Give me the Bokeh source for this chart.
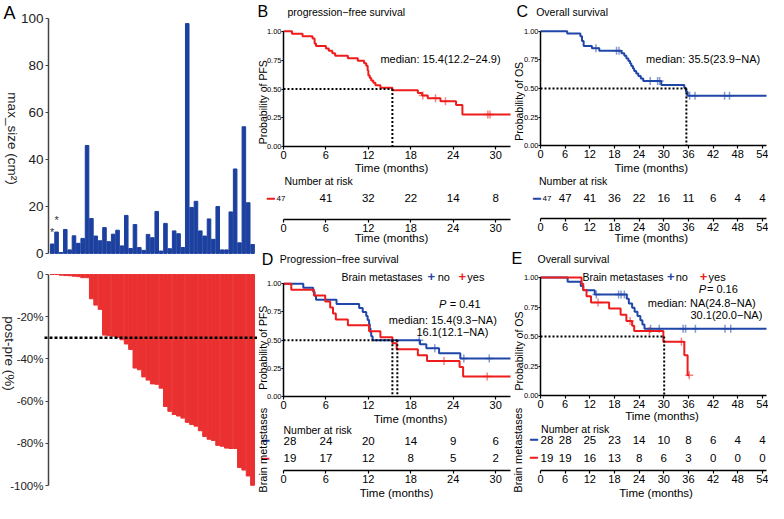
import math
from bokeh.plotting import figure
from bokeh.layouts import row, column
from bokeh.models import (Range1d, Label, LabelSet, ColumnDataSource, LinearAxis,
                          FixedTicker, PrintfTickFormatter)
from bokeh.embed import file_html
from bokeh.resources import INLINE
from bokeh.core.properties import value

# ---------------- Panel A data ----------------
patients = list(range(1, 48))
max_size = [4.0, 9.1, 0.4, 10.2, 1.5, 7.5, 4.3, 6.4, 46, 14.9, 7.4, 5.4, 11.0, 5.0, 8.2,
            9.9, 3.2, 16.2, 2.1, 12.3, 2.5, 1.3, 8.1, 6.7, 17.9, 1.0, 12.8, 2.0, 9.6, 8.4,
            2.5, 98, 19.6, 22.2, 9.6, 7.4, 14.7, 6.0, 20.0, 1.5, 1.5, 17.7, 36, 4.5, 54,
            21.6, 3.8]
change_pct = [0, 0, -0.3, -0.5, -0.6, -0.8, -1.0, -1.5, -1.5, -11.5, -14.5, -16.5, -28.7,
              -29.0, -29.2, -29.8, -30.9, -32.9, -35.5, -44.3, -45.1, -48.5, -50.0, -51.8,
              -52.0, -53.8, -62.5, -64.8, -66.3, -67.0, -68.0, -70.0, -71.0, -71.8, -74.0,
              -76.7, -78.0, -78.6, -80.9, -81.3, -82.2, -82.4, -82.4, -91.4, -92.6, -95.4,
              -99.8]
starred_patients = [1, 2]
size_ticks = [0, 20, 40, 60, 80, 100]
change_ticks = [0, -20, -40, -60, -80, -100]
change_tick_labels = ["0", "-20%", "-40%", "-60%", "-80%", "-100%"]
response_cutoff = -30

# ---------------- KM data ----------------
surv_ticks = [0, 0.25, 0.5, 0.75, 1.0]
median_level = 0.5
pfs_ticks = [0, 6, 12, 18, 24, 30]
os_ticks = [0, 6, 12, 18, 24, 30, 36, 42, 48, 54]

# B: progression-free survival (all)
pfs_time = [0, 1.2, 2.7, 4.1, 4.4, 4.6, 6.0, 6.4, 6.9, 7.3, 9.1, 10.5, 11.4, 11.7, 11.9,
            12.0, 12.2, 12.4, 12.7, 13.0, 13.7, 15.4, 19.0, 19.6, 20.4, 22.2, 24.4, 25.3, 32.1]
pfs_surv = [1.0, 0.979, 0.957, 0.936, 0.894, 0.872, 0.851, 0.830, 0.809, 0.787, 0.766,
            0.745, 0.723, 0.702, 0.660, 0.617, 0.596, 0.574, 0.553, 0.532, 0.511, 0.489,
            0.466, 0.443, 0.419, 0.393, 0.362, 0.28, 0.28]
pfs_censor = [19.7, 21.5, 22.9, 28.9, 29.2]
pfs_median = [15.4]
pfs_risk = [47, 41, 32, 22, 14, 8]

# C: overall survival (all)
os_time = [0, 6.5, 9.7, 10.1, 10.5, 12.5, 14.3, 19.7, 20.4, 20.9, 21.4, 21.8, 22.1, 22.5,
           22.8, 23.3, 23.8, 24.4, 25.0, 29.4, 35.0, 35.4, 35.8, 55]
os_surv = [1.0, 0.979, 0.957, 0.915, 0.872, 0.851, 0.829, 0.807, 0.785, 0.763, 0.741, 0.719,
           0.697, 0.675, 0.653, 0.631, 0.609, 0.587, 0.565, 0.531, 0.504, 0.472, 0.437, 0.437]
os_censor = [13.5, 18.5, 19.1, 26.7, 28.5, 29.0, 36.3, 37.6, 44.8, 46.0]
os_median = [35.5]
os_risk = [47, 47, 41, 36, 22, 16, 11, 6, 4, 4]

# D: PFS by brain metastases
pfs_no_time = [0, 2.8, 4.2, 4.4, 4.6, 7.5, 10.7, 11.2, 11.7, 11.9, 12.1, 12.2, 12.3, 12.4,
               12.6, 19.3, 20.2, 22.0, 25.0, 32.1]
pfs_no_surv = [1.0, 0.964, 0.929, 0.893, 0.857, 0.821, 0.786, 0.750, 0.714, 0.679, 0.643,
               0.607, 0.571, 0.536, 0.500, 0.464, 0.429, 0.386, 0.338, 0.338]
pfs_no_censor = [19.2, 21.4, 25.5, 29.1]
pfs_yes_time = [0, 1.1, 4.3, 5.9, 6.6, 7.0, 7.4, 9.1, 12.1, 13.7, 15.4, 16.0, 19.0, 20.3,
                24.9, 25.4, 32.1]
pfs_yes_surv = [1.0, 0.947, 0.895, 0.842, 0.789, 0.737, 0.684, 0.632, 0.579, 0.526, 0.474,
                0.421, 0.368, 0.316, 0.263, 0.18, 0.18]
pfs_yes_censor = [22.7, 28.8]
pfs_bm_medians = [15.4, 16.1]
pfs_no_risk = [28, 24, 20, 14, 9, 6]
pfs_yes_risk = [19, 17, 12, 8, 5, 2]

# E: OS by brain metastases
os_no_time = [0, 6.6, 9.8, 10.4, 13.2, 21.0, 21.5, 22.3, 22.9, 23.6, 24.3, 24.8, 25.3, 55]
os_no_surv = [1.0, 0.964, 0.929, 0.893, 0.857, 0.82, 0.78, 0.745, 0.71, 0.674, 0.638, 0.603,
              0.567, 0.567]
os_no_censor = [13.6, 19.0, 19.6, 20.4, 26.8, 28.9, 34.7, 35.3, 37.7, 44.9, 46.3]
os_yes_time = [0, 10.0, 10.4, 11.2, 12.3, 16.7, 19.5, 20.9, 22.3, 22.8, 29.9, 35.0, 35.8, 36.2]
os_yes_surv = [1.0, 0.947, 0.895, 0.842, 0.789, 0.737, 0.684, 0.632, 0.592, 0.548, 0.456,
               0.342, 0.171, 0.171]
os_yes_censor = [14.0, 21.8, 26.5, 34.3, 36.2]
os_bm_medians = [30.1]
os_no_risk = [28, 28, 25, 23, 14, 10, 8, 6, 4, 4]
os_yes_risk = [19, 19, 16, 13, 8, 6, 3, 0, 0, 0]

# ---------------- styling ----------------
F = "Liberation Sans"
RED = "#ee1c1c"
BLUE = "#1f46a8"
BAR_BLUE = "#1c409f"
BAR_RED = "#ea3030"


class Geo:
    """Maps pixel anchors (x from left, y from top) of a full-canvas frame to data ranges."""

    def __init__(self, W, H, xa, xb, ya, yb):
        (pxa, va), (pxb, vb) = xa, xb
        self.sx = (pxb - pxa) / (vb - va)
        self.x0 = va - pxa / self.sx
        self.x1 = self.x0 + W / self.sx
        (pya, ua), (pyb, ub) = ya, yb
        self.sy = (pya - pyb) / (ub - ua)
        self.ybot = ua - (H - pya) / self.sy
        self.ytop = self.ybot + H / self.sy
        self.W, self.H = W, H

    def yd(self, py):
        return self.ybot + (self.H - py) / self.sy

    def xd(self, px):
        return self.x0 + px / self.sx


def make_fig(g):
    p = figure(width=g.W, height=g.H, x_range=Range1d(g.x0, g.x1),
               y_range=Range1d(g.ybot, g.ytop), x_axis_type=None, y_axis_type=None,
               output_backend="svg", toolbar_location=None, min_border=0)
    if p.title is not None:
        p.title.visible = False
    p.outline_line_color = None
    p.grid.visible = False
    return p


def lab(p, g, text, px, py, size, align="left", angle=0.0, color="black", style="normal",
        font=F, x=None, y=None):
    xu, yu = "screen", "screen"
    xv, yv = px, (g.H - py if py is not None else None)
    if x is not None:
        xu, xv = "data", x
    if y is not None:
        yu, yv = "data", y
    p.add_layout(Label(x=xv, y=yv, x_units=xu, y_units=yu, text=text, text_font=font,
                       text_font_size=size, text_align=align, text_baseline="middle",
                       angle=angle, text_color=color, text_font_style=style))


def axis(p, place, loc, bounds, ticks, size, tick_out=3, standoff=0, color="black",
         label_color="black", fmt=None, overrides=None):
    ax = LinearAxis(fixed_location=loc, bounds=bounds, ticker=FixedTicker(ticks=ticks))
    ax.axis_line_color = color
    ax.axis_line_width = 1.5
    ax.major_tick_line_color = color
    ax.major_tick_line_width = 1.2
    ax.major_tick_out = tick_out
    ax.major_tick_in = 0
    ax.minor_tick_line_color = None
    ax.major_label_text_font = F
    ax.major_label_text_font_size = size
    ax.major_label_text_color = label_color
    ax.major_label_standoff = standoff
    if fmt is not None:
        ax.formatter = fmt
    if overrides is not None:
        ax.major_label_overrides = overrides
    p.add_layout(ax, place)
    return ax


def surv_at(times, survs, t):
    s = survs[0]
    for ti, si in zip(times, survs):
        if ti <= t:
            s = si
        else:
            break
    return s


def curve(p, t, s, cens, color):
    p.step(t, s, mode="after", line_color=color, line_width=2)
    cy = [surv_at(t, s, c) for c in cens]
    p.scatter(cens, cy, marker="cross", size=8, line_color=color, line_width=1.5, alpha=0.55)


def medians(p, meds):
    m = max(meds)
    p.line([0, m], [median_level, median_level], line_color="black", line_dash="2 2", line_width=2)
    for mm in meds:
        p.line([mm, mm], [median_level, 0], line_color="black", line_dash="2 2", line_width=2)


def km_axes(p, g, xmax, ticks, risk_line_py):
    axis(p, "below", 0, (0, xmax), ticks, "11px", 3, 1)
    axis(p, "left", 0, (0, 1), surv_ticks, "7.5px", 2, 0, fmt=PrintfTickFormatter(format="%.2f"))
    axis(p, "below", g.yd(risk_line_py), (0, xmax), ticks, "11px", 3, 1)


def risk_row(p, g, ticks, counts, py):
    src = ColumnDataSource(dict(x=ticks[1:], y=[g.H - py] * (len(ticks) - 1),
                                t=[str(c) for c in counts[1:]]))
    p.add_layout(LabelSet(x="x", y="y", x_units="data", y_units="screen", text="t",
                          source=src, text_align="center", text_baseline="middle",
                          text_font=value(F), text_font_size=value("11.5px"),
                          text_color="black"))


# ================= Panel A =================
gA1 = Geo(257, 262, (48, 0.15), (256, 47.9), (252.9, 0), (18.4, 100))
pA1 = make_fig(gA1)
pA1.vbar(x=patients, top=max_size, width=0.82, color=BAR_BLUE)
axis(pA1, "left", 0.15, (0, 100), size_ticks, "13.5px", 3, 2, color="#444444", label_color="#222222")
star_src = ColumnDataSource(dict(x=[patients[i - 1] for i in starred_patients],
                                 y=[max_size[i - 1] + 5 for i in starred_patients],
                                 t=["*"] * len(starred_patients)))
pA1.add_layout(LabelSet(x="x", y="y", text="t", source=star_src, text_align="center",
                        text_baseline="middle", text_font=value(F),
                        text_font_size=value("11px"), text_color="#333333"))
lab(pA1, gA1, "A", 3, 12, "18px")
lab(pA1, gA1, "max_size (cm\u00b2)", 11.5, 138, "13.5px", align="center",
    angle=-math.pi / 2, color="#222222")

gA2 = Geo(257, 241, (48, 0.15), (256, 47.9), (12, 0), (223.2, -100))
pA2 = make_fig(gA2)
pA2.vbar(x=patients, top=change_pct, bottom=0, width=0.9, color=BAR_RED)
axis(pA2, "left", 0.15, (-100, 0), change_ticks, "11.5px", 3, 2, color="#444444",
     label_color="#222222", overrides=dict(zip(change_ticks, change_tick_labels)))
pA2.line([gA2.xd(44), gA2.x1], [response_cutoff, response_cutoff], line_color="black",
         line_dash="3 2", line_width=2.5)
lab(pA2, gA2, "post-pre (%)", 8.5, 91, "13.5px", align="center", angle=-math.pi / 2,
    color="#222222")

# ================= Panel B (+ risk table) =================
gB = Geo(254, 250, (26, 0), (253, 32.1), (146.3, 0), (30.7, 1))
pB = make_fig(gB)
curve(pB, pfs_time, pfs_surv, pfs_censor, RED)
medians(pB, pfs_median)
km_axes(pB, gB, 32.1, pfs_ticks, 219)
lab(pB, gB, "B", 0, 10.5, "16px")
lab(pB, gB, "progression\u2212free survival", 30, 11.6, "10.5px")
lab(pB, gB, "Probability of PFS", 5, 101.7, "10.5px", align="center", angle=math.pi / 2)
lab(pB, gB, "Time (months)", 134, 167.6, "11.5px", align="center")
lab(pB, gB, "median: 15.4(12.2\u221224.9)", None, None, "11px", x=13.7, y=0.76)
lab(pB, gB, "Number at risk", 27, 180, "10.5px")
risk_row(pB, gB, pfs_ticks, pfs_risk, 197.7)
lab(pB, gB, str(pfs_risk[0]), 28, 197.7, "8px", align="right")
lab(pB, gB, "\u2501", 13.5, 197.7, "13px", align="center", color=RED, font="DejaVu Sans")
lab(pB, gB, "Time (months)", 134, 237.6, "11.5px", align="center")

# ================= Panel C (+ risk table) =================
gC = Geo(257, 250, (29, 0), (255, 55), (145.4, 0), (30.7, 1))
pC = make_fig(gC)
curve(pC, os_time, os_surv, os_censor, BLUE)
medians(pC, os_median)
km_axes(pC, gC, 55, os_ticks, 218)
lab(pC, gC, "C", 5, 10.7, "16px")
lab(pC, gC, "Overall survival", 24.7, 11.3, "10.5px")
lab(pC, gC, "Probability of OS", 7, 100.8, "10.5px", align="center", angle=math.pi / 2)
lab(pC, gC, "Time (months)", 139.8, 167.6, "11.5px", align="center")
lab(pC, gC, "median: 35.5(23.9\u2212NA)", None, None, "11px", x=25.7, y=0.76)
lab(pC, gC, "Number at risk", 27.5, 180, "10.5px")
risk_row(pC, gC, os_ticks, os_risk, 197.7)
lab(pC, gC, str(os_risk[0]), 31, 197.7, "8px")
lab(pC, gC, "\u2501", 25.5, 197.7, "13px", align="center", color=BLUE, font="DejaVu Sans")
lab(pC, gC, "Time (months)", 139.8, 237.6, "11.5px", align="center")

# ================= Panel D (+ risk table) =================
gD = Geo(254, 253, (26, 0), (253, 32.1), (146.3, 0), (33.2, 1))
pD = make_fig(gD)
curve(pD, pfs_no_time, pfs_no_surv, pfs_no_censor, BLUE)
curve(pD, pfs_yes_time, pfs_yes_surv, pfs_yes_censor, RED)
medians(pD, pfs_bm_medians)
km_axes(pD, gD, 32.1, pfs_ticks, 220)
lab(pD, gD, "D", 4.3, 8.5, "16px")
lab(pD, gD, "Progression\u2212free survival", 22.3, 8.7, "10.5px")
lab(pD, gD, "Probability of PFS", 5, 97.2, "10.5px", align="center", angle=math.pi / 2)
lab(pD, gD, "Time (months)", 153, 168.3, "11.5px", align="center")
lab(pD, gD, "Brain metastases", None, None, "10.5px", x=8.2, y=1.063)
lab(pD, gD, "+", None, None, "13px", align="center", color=BLUE, style="bold", x=20.9, y=1.063)
lab(pD, gD, "no", None, None, "11px", x=21.8, y=1.063)
lab(pD, gD, "+", None, None, "13px", align="center", color=RED, style="bold", x=25.3, y=1.063)
lab(pD, gD, "yes", None, None, "11px", x=26.0, y=1.063)
lab(pD, gD, "P", None, None, "11px", style="italic", x=22.0, y=0.82)
lab(pD, gD, "= 0.41", None, None, "11px", x=23.5, y=0.82)
lab(pD, gD, "median: 15.4(9.3\u2212NA)", None, None, "11px", x=14.9, y=0.678)
lab(pD, gD, "16.1(12.1\u2212NA)", None, None, "11px", x=18.8, y=0.572)
lab(pD, gD, "Number at risk", 26, 179, "10.5px")
risk_row(pD, gD, pfs_ticks, pfs_no_risk, 190.2)
risk_row(pD, gD, pfs_ticks, pfs_yes_risk, 207.6)
lab(pD, gD, str(pfs_no_risk[0]), 26, 190.2, "11.5px")
lab(pD, gD, str(pfs_yes_risk[0]), 26, 207.6, "11.5px")
lab(pD, gD, "\u2501", 8, 190.2, "13px", align="center", color=BLUE, font="DejaVu Sans")
lab(pD, gD, "\u2501", 8, 207.6, "13px", align="center", color=RED, font="DejaVu Sans")
lab(pD, gD, "Time (months)", 139, 242.5, "11.5px", align="center")
lab(pD, gD, "Brain metastases", 5, 199.7, "11px", align="center", angle=math.pi / 2)

# ================= Panel E (+ risk table) =================
gE = Geo(257, 253, (29, 0), (255, 55), (145, 0), (27.1, 1))
pE = make_fig(gE)
curve(pE, os_no_time, os_no_surv, os_no_censor, BLUE)
curve(pE, os_yes_time, os_yes_surv, os_yes_censor, RED)
medians(pE, os_bm_medians)
km_axes(pE, gE, 55, os_ticks, 220)
lab(pE, gE, "E", 0, 7.5, "16px")
lab(pE, gE, "Overall survival", 26, 8.4, "10.5px")
lab(pE, gE, "Probability of OS", 7, 100.5, "10.5px", align="center", angle=math.pi / 2)
lab(pE, gE, "Time (months)", 150.5, 165, "11.5px", align="center")
lab(pE, gE, "Brain metastases", None, None, "10.5px", x=10.2, y=1.008)
lab(pE, gE, "+", None, None, "13px", align="center", color=BLUE, style="bold", x=31.7, y=1.008)
lab(pE, gE, "no", None, None, "11px", x=32.9, y=1.008)
lab(pE, gE, "+", None, None, "13px", align="center", color=RED, style="bold", x=39.7, y=1.008)
lab(pE, gE, "yes", None, None, "11px", x=40.9, y=1.008)
lab(pE, gE, "P", None, None, "11px", style="italic", x=38.5, y=0.904)
lab(pE, gE, "= 0.16", None, None, "11px", x=40.5, y=0.904)
lab(pE, gE, "median: NA(24.8\u2212NA)", None, None, "11px", x=26.1, y=0.784)
lab(pE, gE, "30.1(20.0\u2212NA)", None, None, "11px", x=36.5, y=0.68)
lab(pE, gE, "Number at risk", 29.6, 178.5, "10.5px")
risk_row(pE, gE, os_ticks, os_no_risk, 189.3)
risk_row(pE, gE, os_ticks, os_yes_risk, 207)
lab(pE, gE, str(os_no_risk[0]), 29, 189.3, "11.5px")
lab(pE, gE, str(os_yes_risk[0]), 29, 207, "11.5px")
lab(pE, gE, "\u2501", 22.5, 189.3, "13px", align="center", color=BLUE, font="DejaVu Sans")
lab(pE, gE, "\u2501", 22.5, 207, "13px", align="center", color=RED, font="DejaVu Sans")
lab(pE, gE, "Time (months)", 144.6, 242.6, "11.5px", align="center")
lab(pE, gE, "Brain metastases", 6, 199.7, "11px", align="center", angle=math.pi / 2)

layout = row(column(pA1, pA2), column(pB, pD), column(pC, pE))
open("out.html", "w").write(file_html(layout, INLINE))
